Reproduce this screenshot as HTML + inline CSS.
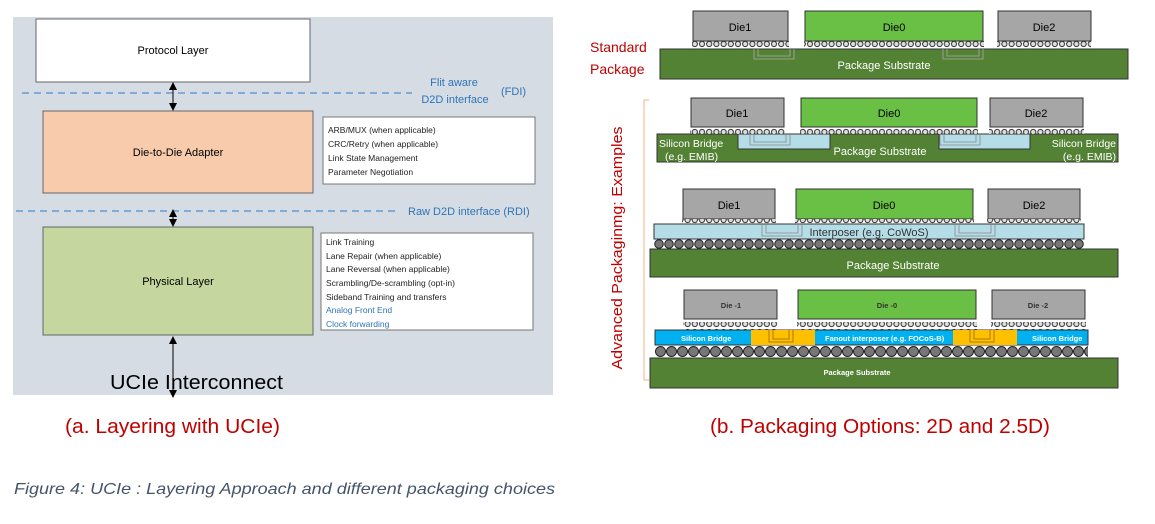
<!DOCTYPE html>
<html><head><meta charset="utf-8"><style>
body{margin:0;background:#fff;width:1155px;height:519px;overflow:hidden}
text{font-family:"Liberation Sans",sans-serif}
</style></head><body>
<svg width="1155" height="519" viewBox="0 0 1155 519" xmlns="http://www.w3.org/2000/svg">
<defs>
<pattern id="sb" x="0" y="0" width="7.2" height="8" patternUnits="userSpaceOnUse"><circle cx="3.6" cy="4" r="2.6" fill="#ddd" stroke="#333" stroke-width="1"/></pattern>
<pattern id="lb1" x="654" y="239" width="10" height="10" patternUnits="userSpaceOnUse"><circle cx="5" cy="5" r="4.3" fill="#777" stroke="#222" stroke-width="1"/></pattern>
<pattern id="lb2" x="655" y="345" width="11" height="13" patternUnits="userSpaceOnUse"><circle cx="5.5" cy="6.5" r="5" fill="#777" stroke="#222" stroke-width="1"/></pattern>
<marker id="ah" markerWidth="8" markerHeight="8" refX="4" refY="4" orient="auto-start-reverse"><path d="M0,0 L8,4 L0,8 z" fill="#000"/></marker>
</defs>
<rect x="13" y="17" width="540" height="378" fill="#d6dce4"/>
<rect x="36" y="19" width="274" height="63" fill="#fff" stroke="#666"/>
<text x="173" y="54" font-size="11" text-anchor="middle">Protocol Layer</text>
<rect x="43" y="111" width="270" height="82" fill="#f8cbad" stroke="#666"/>
<text x="178" y="156" font-size="11" text-anchor="middle">Die-to-Die Adapter</text>
<rect x="43" y="227" width="270" height="108" fill="#c5d69e" stroke="#666"/>
<text x="178" y="285" font-size="11" text-anchor="middle">Physical Layer</text>
<line x1="22" y1="93" x2="412" y2="93" stroke="#4f90d0" stroke-width="1.3" stroke-dasharray="7,5"/>
<line x1="16" y1="211" x2="398" y2="211" stroke="#4f90d0" stroke-width="1.3" stroke-dasharray="7,5"/>
<text x="454" y="86" font-size="11" fill="#2e75b6" text-anchor="middle">Flit aware</text>
<text x="455" y="103" font-size="11" fill="#2e75b6" text-anchor="middle">D2D interface</text>
<text x="501" y="95" font-size="11" fill="#2e75b6">(FDI)</text>
<text x="408" y="215" font-size="11" fill="#2e75b6">Raw D2D interface (RDI)</text>
<line x1="173" y1="86" x2="173" y2="107" stroke="#000" marker-start="url(#ah)" marker-end="url(#ah)"/>
<line x1="173" y1="213" x2="173" y2="223" stroke="#000" marker-start="url(#ah)" marker-end="url(#ah)"/>
<line x1="173" y1="340" x2="173" y2="394" stroke="#000" marker-start="url(#ah)" marker-end="url(#ah)"/>
<rect x="323" y="117" width="212" height="67" fill="#fff" stroke="#777"/>
<g font-size="8.5" fill="#222"><text x="328" y="133">ARB/MUX (when applicable)</text><text x="328" y="147">CRC/Retry (when applicable)</text><text x="328" y="161">Link State Management</text><text x="328" y="175">Parameter Negotiation</text></g>
<rect x="321" y="233" width="212" height="97" fill="#fff" stroke="#777"/>
<g font-size="8.5" fill="#222"><text x="326" y="245">Link Training</text><text x="326" y="259">Lane Repair (when applicable)</text><text x="326" y="272">Lane Reversal (when applicable)</text><text x="326" y="286">Scrambling/De-scrambling (opt-in)</text><text x="326" y="300">Sideband Training and transfers</text><text x="326" y="313" fill="#2e75b6">Analog Front End</text><text x="326" y="327" fill="#2e75b6">Clock forwarding</text></g>
<text x="110" y="389" font-size="20" fill="#000" textLength="173" lengthAdjust="spacingAndGlyphs">UCIe Interconnect</text>
<text x="590" y="52" font-size="14" fill="#c00000">Standard</text>
<text x="590" y="74" font-size="14" fill="#c00000">Package</text>
<rect x="660" y="49" width="468" height="30" fill="#548235" stroke="#333"/>
<rect x="693" y="11" width="95" height="30" fill="#a6a6a6" stroke="#333"/>
<rect x="805" y="11" width="178" height="30" fill="#6abf45" stroke="#333"/>
<rect x="998" y="11" width="93" height="30" fill="#a6a6a6" stroke="#333"/>
<rect x="692" y="41" width="97" height="8" fill="url(#sb)"/>
<rect x="804" y="41" width="180" height="8" fill="url(#sb)"/>
<rect x="997" y="41" width="94" height="8" fill="url(#sb)"/>
<g fill="none" stroke="#aaa" stroke-width="0.8"><path d="M754,49v10h40v-10M758,49v7h32v-7"/><path d="M943,49v10h40v-10M947,49v7h32v-7"/></g>
<g font-size="11" text-anchor="middle"><text x="740" y="31">Die1</text><text x="894" y="31">Die0</text><text x="1044" y="31">Die2</text></g>
<text x="884" y="69" font-size="11" fill="#fff" text-anchor="middle">Package Substrate</text>
<path d="M649,100 h-5 v280 h5" fill="none" stroke="#f4b183" stroke-width="1"/>
<text transform="translate(622,248) rotate(-90)" font-size="15" fill="#c00000" text-anchor="middle" textLength="243" lengthAdjust="spacingAndGlyphs">Advanced Packaginmg: Examples</text>
<rect x="657" y="134" width="461" height="28" fill="#548235" stroke="#333"/>
<rect x="738" y="134" width="92" height="15" fill="#b4dde8" stroke="#333"/>
<rect x="939" y="134" width="91" height="15" fill="#b4dde8" stroke="#333"/>
<rect x="691" y="98" width="93" height="29" fill="#a6a6a6" stroke="#333"/>
<rect x="801" y="98" width="176" height="29" fill="#6abf45" stroke="#333"/>
<rect x="990" y="98" width="93" height="29" fill="#a6a6a6" stroke="#333"/>
<rect x="690" y="127" width="95" height="7" fill="url(#sb)"/>
<rect x="800" y="127" width="178" height="7" fill="url(#sb)"/>
<rect x="989" y="127" width="95" height="7" fill="url(#sb)"/>
<g fill="none" stroke="#888" stroke-width="0.8"><path d="M750,134v11h40v-11M754,134v8h32v-8"/><path d="M940,134v11h40v-11M944,134v8h32v-8"/></g>
<g font-size="11" text-anchor="middle"><text x="737" y="117">Die1</text><text x="889" y="117">Die0</text><text x="1036" y="117">Die2</text></g>
<g font-size="10.5" fill="#fff"><text x="659" y="147">Silicon Bridge</text><text x="665" y="160">(e.g. EMIB)</text><text x="1116" y="147" text-anchor="end">Silicon Bridge</text><text x="1116" y="160" text-anchor="end">(e.g. EMIB)</text></g>
<text x="880" y="155" font-size="11" fill="#fff" text-anchor="middle">Package Substrate</text>
<rect x="683" y="189" width="92" height="30" fill="#a6a6a6" stroke="#333"/>
<rect x="796" y="189" width="177" height="30" fill="#6abf45" stroke="#333"/>
<rect x="988" y="189" width="92" height="30" fill="#a6a6a6" stroke="#333"/>
<rect x="682" y="219" width="94" height="6" fill="url(#sb)"/>
<rect x="795" y="219" width="179" height="6" fill="url(#sb)"/>
<rect x="987" y="219" width="94" height="6" fill="url(#sb)"/>
<rect x="654" y="224" width="430" height="15" fill="#b4dde8" stroke="#333"/>
<g fill="none" stroke="#888" stroke-width="0.8"><path d="M762,224v12h40v-12M766,224v9h32v-9"/><path d="M955,224v12h40v-12M959,224v9h32v-9"/></g>
<text x="869" y="236" font-size="11" fill="#333" text-anchor="middle">Interposer (e.g. CoWoS)</text>
<rect x="654" y="239" width="430" height="10" fill="url(#lb1)"/>
<rect x="650" y="249" width="468" height="28" fill="#548235" stroke="#333"/>
<g font-size="11" text-anchor="middle"><text x="729" y="209">Die1</text><text x="884" y="209">Die0</text><text x="1034" y="209">Die2</text></g>
<text x="893" y="269" font-size="11" fill="#fff" text-anchor="middle">Package Substrate</text>
<rect x="684" y="290" width="93" height="29" fill="#a6a6a6" stroke="#333"/>
<rect x="798" y="290" width="178" height="29" fill="#6abf45" stroke="#333"/>
<rect x="992" y="290" width="93" height="29" fill="#a6a6a6" stroke="#333"/>
<rect x="683" y="322" width="95" height="8" fill="url(#sb)"/>
<rect x="797" y="322" width="180" height="8" fill="url(#sb)"/>
<rect x="991" y="322" width="95" height="8" fill="url(#sb)"/>
<rect x="655" y="330" width="433" height="15" fill="#00b0f0" stroke="#333"/>
<rect x="751" y="330" width="64" height="15" fill="#ffc000"/>
<rect x="953" y="330" width="64" height="15" fill="#ffc000"/>
<g fill="none" stroke="#996600" stroke-width="0.8"><path d="M769,330v12h24v-12M773,330v9h16v-9"/><path d="M970,330v12h24v-12M974,330v9h16v-9"/></g>
<g font-size="7.5" font-weight="bold" fill="#333" text-anchor="middle"><text x="731" y="308">Die -1</text><text x="887" y="308">Die -0</text><text x="1038" y="308">Die -2</text></g>
<g font-size="7.5" font-weight="bold" fill="#fff"><text x="681" y="341">Silicon Bridge</text><text x="825" y="341">Fanout interposer (e.g. FOCoS-B)</text><text x="1032" y="341">Silicon Bridge</text></g>
<rect x="655" y="345" width="433" height="13" fill="url(#lb2)"/>
<rect x="650" y="358" width="468" height="30" fill="#548235" stroke="#333"/>
<text x="857" y="375" font-size="7.5" font-weight="bold" fill="#fff" text-anchor="middle">Package Substrate</text>
<text x="65" y="433" font-size="20" fill="#c00000" textLength="215" lengthAdjust="spacingAndGlyphs">(a. Layering with UCIe)</text>
<text x="710" y="433" font-size="20" fill="#c00000" textLength="340" lengthAdjust="spacingAndGlyphs">(b. Packaging Options: 2D and 2.5D)</text>
<text x="14" y="494" font-size="16" font-style="italic" fill="#44546a" textLength="541" lengthAdjust="spacingAndGlyphs">Figure 4: UCIe : Layering Approach and different packaging choices</text>
</svg>
</body></html>
